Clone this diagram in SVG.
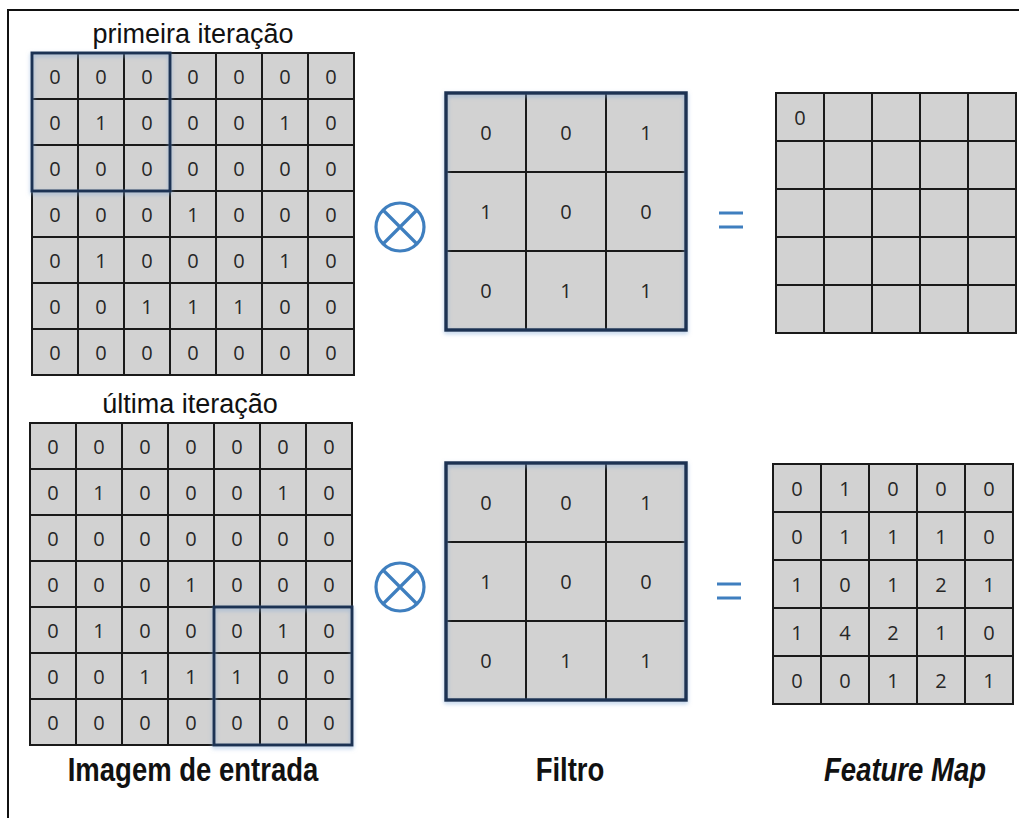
<svg xmlns="http://www.w3.org/2000/svg" width="1028" height="818" viewBox="0 0 1028 818">
  <style>
    .cell { fill: #d2d2d2; stroke: #1a1a1a; stroke-width: 2; }
    .num { font-family: "Open Sans", "DejaVu Sans", sans-serif; font-size: 20px; fill: #262626; text-anchor: middle; dominant-baseline: central; }
    .hl { fill: none; stroke: #1c3152; stroke-width: 3; }
    .title { font-family: "Liberation Sans", Arial, sans-serif; font-size: 27px; fill: #111; text-anchor: middle; }
    .label { font-family: "Liberation Sans", Arial, sans-serif; font-size: 27.5px; font-weight: bold; fill: #111; text-anchor: middle; }
    .op { fill: none; stroke: #3f7fbf; stroke-width: 3.2; }
    .frame { stroke: #111; stroke-width: 2; fill: none; }
  </style>
  <defs>
    <filter id="glow" x="-10%" y="-10%" width="120%" height="120%">
      <feGaussianBlur in="SourceAlpha" stdDeviation="2"/>
      <feOffset dx="0" dy="2" result="b"/>
      <feFlood flood-color="#7fa6d6" flood-opacity="0.6"/>
      <feComposite in2="b" operator="in"/>
      <feMerge><feMergeNode/><feMergeNode in="SourceGraphic"/></feMerge>
    </filter>
    <!-- 7x7 input grid, 46px cells -->
    <g id="grid7">
      <rect class="cell" x="0" y="0" width="322" height="322"/>
      <path d="M46 0V322M92 0V322M138 0V322M184 0V322M230 0V322M276 0V322M0 46H322M0 92H322M0 138H322M0 184H322M0 230H322M0 276H322" stroke="#1a1a1a" stroke-width="2" fill="none"/>
    </g>
    <!-- 5x5 feature map grid, 48px cells -->
    <g id="grid5">
      <rect class="cell" x="0" y="0" width="240" height="240"/>
      <path d="M48 0V240M96 0V240M144 0V240M192 0V240M0 48H240M0 96H240M0 144H240M0 192H240" stroke="#1a1a1a" stroke-width="2" fill="none"/>
    </g>
    <!-- 3x3 filter grid -->
    <g id="grid3">
      <rect class="cell" x="0" y="0" width="240" height="237"/>
      <path d="M80 0V237M160 0V237M0 79H240M0 158H240" stroke="#1a1a1a" stroke-width="2" fill="none"/>
      <rect x="0" y="0" width="240" height="237" fill="none" stroke="#1c3152" stroke-width="3.5" filter="url(#glow)"/>
    </g>
  </defs>

  <!-- page frame -->
  <path class="frame" d="M8 818V10H1019"/>

  <!-- first pass: input image -->
  <g id="input-first">
    <text class="title" x="193" y="43">primeira iteração</text>
    <use href="#grid7" x="32" y="53"/>
    <g class="numbers">
      <text class="num" x="55" y="76">0</text><text class="num" x="101" y="76">0</text><text class="num" x="147" y="76">0</text><text class="num" x="193" y="76">0</text><text class="num" x="239" y="76">0</text><text class="num" x="285" y="76">0</text><text class="num" x="331" y="76">0</text>
      <text class="num" x="55" y="122">0</text><text class="num" x="101" y="122">1</text><text class="num" x="147" y="122">0</text><text class="num" x="193" y="122">0</text><text class="num" x="239" y="122">0</text><text class="num" x="285" y="122">1</text><text class="num" x="331" y="122">0</text>
      <text class="num" x="55" y="168">0</text><text class="num" x="101" y="168">0</text><text class="num" x="147" y="168">0</text><text class="num" x="193" y="168">0</text><text class="num" x="239" y="168">0</text><text class="num" x="285" y="168">0</text><text class="num" x="331" y="168">0</text>
      <text class="num" x="55" y="214">0</text><text class="num" x="101" y="214">0</text><text class="num" x="147" y="214">0</text><text class="num" x="193" y="214">1</text><text class="num" x="239" y="214">0</text><text class="num" x="285" y="214">0</text><text class="num" x="331" y="214">0</text>
      <text class="num" x="55" y="260">0</text><text class="num" x="101" y="260">1</text><text class="num" x="147" y="260">0</text><text class="num" x="193" y="260">0</text><text class="num" x="239" y="260">0</text><text class="num" x="285" y="260">1</text><text class="num" x="331" y="260">0</text>
      <text class="num" x="55" y="306">0</text><text class="num" x="101" y="306">0</text><text class="num" x="147" y="306">1</text><text class="num" x="193" y="306">1</text><text class="num" x="239" y="306">1</text><text class="num" x="285" y="306">0</text><text class="num" x="331" y="306">0</text>
      <text class="num" x="55" y="352">0</text><text class="num" x="101" y="352">0</text><text class="num" x="147" y="352">0</text><text class="num" x="193" y="352">0</text><text class="num" x="239" y="352">0</text><text class="num" x="285" y="352">0</text><text class="num" x="331" y="352">0</text>
    </g>
    <rect class="hl" x="32" y="53" width="138" height="138" filter="url(#glow)"/>
  </g>

  <!-- first pass: filter -->
  <g id="filter-first">
    <use href="#grid3" x="446" y="93"/>
    <text class="num" x="486" y="132.5">0</text><text class="num" x="566" y="132.5">0</text><text class="num" x="646" y="132.5">1</text>
    <text class="num" x="486" y="211.5">1</text><text class="num" x="566" y="211.5">0</text><text class="num" x="646" y="211.5">0</text>
    <text class="num" x="486" y="290.5">0</text><text class="num" x="566" y="290.5">1</text><text class="num" x="646" y="290.5">1</text>
  </g>

  <!-- first pass: feature map -->
  <g id="feature-first">
    <use href="#grid5" x="776" y="93"/>
    <text class="num" x="800" y="117">0</text>
  </g>

  <!-- last pass: input image -->
  <g id="input-last">
    <text class="title" x="190" y="413">última iteração</text>
    <use href="#grid7" x="30" y="423"/>
    <g class="numbers">
      <text class="num" x="53" y="446">0</text><text class="num" x="99" y="446">0</text><text class="num" x="145" y="446">0</text><text class="num" x="191" y="446">0</text><text class="num" x="237" y="446">0</text><text class="num" x="283" y="446">0</text><text class="num" x="329" y="446">0</text>
      <text class="num" x="53" y="492">0</text><text class="num" x="99" y="492">1</text><text class="num" x="145" y="492">0</text><text class="num" x="191" y="492">0</text><text class="num" x="237" y="492">0</text><text class="num" x="283" y="492">1</text><text class="num" x="329" y="492">0</text>
      <text class="num" x="53" y="538">0</text><text class="num" x="99" y="538">0</text><text class="num" x="145" y="538">0</text><text class="num" x="191" y="538">0</text><text class="num" x="237" y="538">0</text><text class="num" x="283" y="538">0</text><text class="num" x="329" y="538">0</text>
      <text class="num" x="53" y="584">0</text><text class="num" x="99" y="584">0</text><text class="num" x="145" y="584">0</text><text class="num" x="191" y="584">1</text><text class="num" x="237" y="584">0</text><text class="num" x="283" y="584">0</text><text class="num" x="329" y="584">0</text>
      <text class="num" x="53" y="630">0</text><text class="num" x="99" y="630">1</text><text class="num" x="145" y="630">0</text><text class="num" x="191" y="630">0</text><text class="num" x="237" y="630">0</text><text class="num" x="283" y="630">1</text><text class="num" x="329" y="630">0</text>
      <text class="num" x="53" y="676">0</text><text class="num" x="99" y="676">0</text><text class="num" x="145" y="676">1</text><text class="num" x="191" y="676">1</text><text class="num" x="237" y="676">1</text><text class="num" x="283" y="676">0</text><text class="num" x="329" y="676">0</text>
      <text class="num" x="53" y="722">0</text><text class="num" x="99" y="722">0</text><text class="num" x="145" y="722">0</text><text class="num" x="191" y="722">0</text><text class="num" x="237" y="722">0</text><text class="num" x="283" y="722">0</text><text class="num" x="329" y="722">0</text>
    </g>
    <rect class="hl" x="214" y="607" width="138" height="138" filter="url(#glow)"/>
  </g>

  <!-- last pass: filter -->
  <g id="filter-last">
    <use href="#grid3" x="446" y="463"/>
    <text class="num" x="486" y="502.5">0</text><text class="num" x="566" y="502.5">0</text><text class="num" x="646" y="502.5">1</text>
    <text class="num" x="486" y="581.5">1</text><text class="num" x="566" y="581.5">0</text><text class="num" x="646" y="581.5">0</text>
    <text class="num" x="486" y="660.5">0</text><text class="num" x="566" y="660.5">1</text><text class="num" x="646" y="660.5">1</text>
  </g>

  <!-- last pass: feature map -->
  <g id="feature-last">
    <use href="#grid5" x="773" y="464"/>
    <text class="num" x="797" y="488">0</text><text class="num" x="845" y="488">1</text><text class="num" x="893" y="488">0</text><text class="num" x="941" y="488">0</text><text class="num" x="989" y="488">0</text>
    <text class="num" x="797" y="536">0</text><text class="num" x="845" y="536">1</text><text class="num" x="893" y="536">1</text><text class="num" x="941" y="536">1</text><text class="num" x="989" y="536">0</text>
    <text class="num" x="797" y="584">1</text><text class="num" x="845" y="584">0</text><text class="num" x="893" y="584">1</text><text class="num" x="941" y="584">2</text><text class="num" x="989" y="584">1</text>
    <text class="num" x="797" y="632">1</text><text class="num" x="845" y="632">4</text><text class="num" x="893" y="632">2</text><text class="num" x="941" y="632">1</text><text class="num" x="989" y="632">0</text>
    <text class="num" x="797" y="680">0</text><text class="num" x="845" y="680">0</text><text class="num" x="893" y="680">1</text><text class="num" x="941" y="680">2</text><text class="num" x="989" y="680">1</text>
  </g>

  <!-- operators -->
  <g id="operators">
    <g id="conv-first" class="op">
      <circle cx="400" cy="227" r="24"/>
      <path d="M383 210L417 244M417 210L383 244"/>
    </g>
    <g id="equals-first" class="op" stroke-width="4">
      <path d="M719 213H743M719 227H743"/>
    </g>
    <g id="conv-last" class="op">
      <circle cx="400" cy="587" r="24"/>
      <path d="M383 570L417 604M417 570L383 604"/>
    </g>
    <g id="equals-last" class="op" stroke-width="4">
      <path d="M717 584H741M717 598H741"/>
    </g>
  </g>

  <!-- column captions -->
  <g id="captions">
    <text class="label" transform="translate(193 781) scale(1 1.2)">Imagem de entrada</text>
    <text class="label" transform="translate(570 781) scale(1 1.2)">Filtro</text>
    <text class="label" font-style="italic" transform="translate(905 781) scale(1 1.2)">Feature Map</text>
  </g>
</svg>
